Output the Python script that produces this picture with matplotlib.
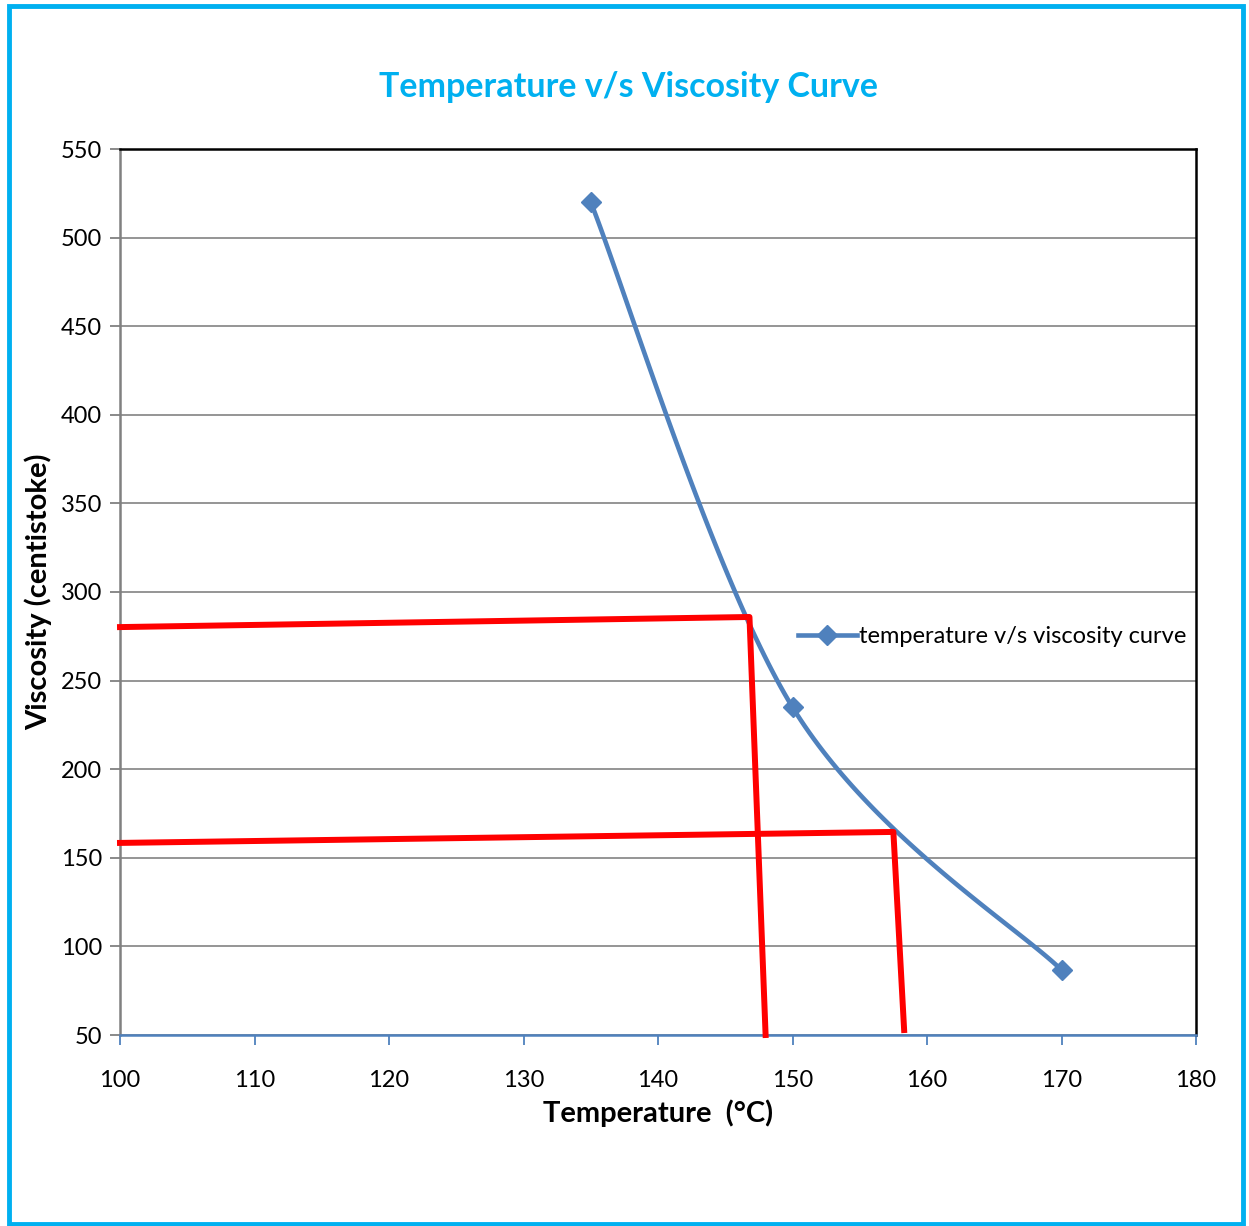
import matplotlib.pyplot as plt
import numpy as np
from matplotlib.patches import Rectangle

# measured points
temp = [135, 150, 170]
visc = [520, 235, 86.7]

# red read-off lines (horizontal then down to the axis)
read1_x = [100, 146.8, 148.0]
read1_y = [280.2, 285.9, 50]
read2_x = [100, 157.5, 158.3]
read2_y = [158.4, 164.6, 52.8]

xticks = list(range(100, 181, 10))
yticks = list(range(50, 551, 50))

blue = "#4F81BD"
cyan = "#00B0F0"
font = ["Lato", "DejaVu Sans"]


def smooth(xs, ys, n=60):
    # bezier smoothing in the style of spreadsheet "smoothed line"
    p = np.column_stack([xs, ys]).astype(float)
    p_ext = np.vstack([p[0], p, p[-1]])
    out = []
    for i in range(len(p) - 1):
        p0, p1, p2, p3 = p_ext[i], p_ext[i + 1], p_ext[i + 2], p_ext[i + 3]
        c1 = p1 + (p2 - p0) / 6
        c2 = p2 - (p3 - p1) / 6
        t = np.linspace(0, 1, n)[:, None]
        seg = ((1 - t) ** 3) * p1 + 3 * ((1 - t) ** 2) * t * c1 + 3 * (1 - t) * t ** 2 * c2 + t ** 3 * p2
        out.append(seg if i == 0 else seg[1:])
    s = np.vstack(out)
    return s[:, 0], s[:, 1]


fig = plt.figure(figsize=(12.49, 12.26), dpi=100)
fig.patches.append(Rectangle((0.0075, 0.002), 0.988, 0.993, transform=fig.transFigure,
                             fill=False, edgecolor=cyan, linewidth=3.5))

ax = fig.add_axes([120 / 1249, 1 - 1035 / 1226, (1196 - 120) / 1249, (1035 - 149) / 1226])

ax.set_xlim(100, 180)
ax.set_ylim(50, 550)
ax.set_xticks(xticks)
ax.set_yticks(yticks)
ax.yaxis.grid(True, color="#8C8C8C", linewidth=1.3)
ax.set_axisbelow(True)

sx, sy = smooth(temp, visc)
ax.plot(sx, sy, color=blue, linewidth=3.3, solid_capstyle="round", zorder=3)
ax.plot(temp, visc, linestyle="none", marker="D", markersize=10, color=blue, zorder=4)
leg_handle, = ax.plot([], [], color=blue, linewidth=3.3, marker="D", markersize=10)

ax.plot(read1_x, read1_y, color="#FF0000", linewidth=4.3, zorder=5, clip_on=False)
ax.plot(read2_x, read2_y, color="#FF0000", linewidth=4.3, zorder=5, clip_on=False)

for side in ["top", "right"]:
    ax.spines[side].set_color("black")
    ax.spines[side].set_linewidth(1.8)
ax.spines["left"].set_color("#808080")
ax.spines["left"].set_linewidth(1.8)
ax.spines["bottom"].set_color(blue)
ax.spines["bottom"].set_linewidth(1.8)

ax.tick_params(axis="x", colors=blue, length=7, width=1.3, pad=18, labelcolor="black", labelsize=17)
ax.tick_params(axis="y", colors="#808080", length=7, width=1.3, pad=6, labelcolor="black", labelsize=17)
for lab in ax.get_xticklabels() + ax.get_yticklabels():
    lab.set_family(font)

ax.set_xlabel("Temperature  (°C)", family=font, fontsize=21, fontweight="bold", labelpad=6)
ax.set_ylabel("Viscosity (centistoke)", family=font, fontsize=21, fontweight="bold", labelpad=6)

fig.text(0.503, 1 - 87 / 1226, "Temperature v/s Viscosity Curve", ha="center", va="center",
         family=font, fontsize=24.5, fontweight="bold", color=cyan)

leg = ax.legend([leg_handle], ["temperature v/s viscosity curve"], loc="center left",
                bbox_to_anchor=(0.61, 0.4495), frameon=False, handlelength=2.5,
                handletextpad=0.1, prop={"family": font, "size": 17})

fig.savefig("out.png", dpi=100)
